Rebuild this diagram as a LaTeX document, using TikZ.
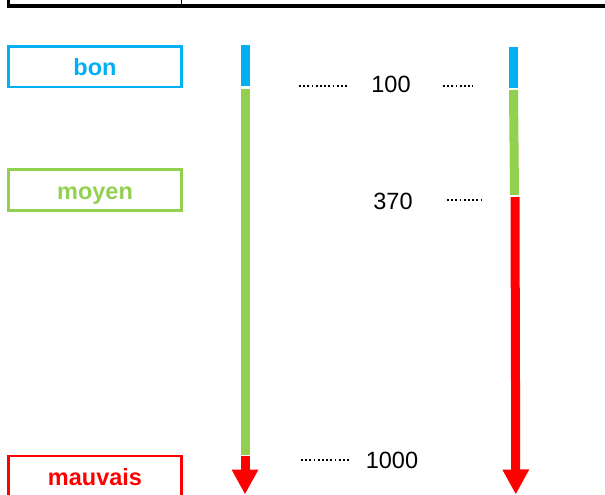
\documentclass[tikz,border=0pt]{standalone}
\usepackage{fontspec}
\setmainfont{Liberation Sans}
\usetikzlibrary{arrows.meta}
\definecolor{bonblue}{HTML}{00B0F0}
\definecolor{moyengreen}{HTML}{92D050}
\definecolor{mauvaisred}{HTML}{FF0000}
\tikzset{
  levelbox/.style={draw, line width=2.5pt, minimum width=173pt, minimum height=40.7pt, inner sep=0pt, text height=18.6pt, text depth=0pt, font=\fontsize{23.5}{28}\selectfont\bfseries},
  value/.style={font=\fontsize{23.5}{28}\selectfont},
  leader/.style={black, line width=1.8pt, dash pattern=on 1.8pt off 2.4pt},
  bar/.style={line width=9pt},
  barhead/.style={bar, -{Triangle[width=25pt,length=25pt]}}
}
\begin{document}
\begin{tikzpicture}[x=1pt,y=-1pt]
\useasboundingbox (0,0) rectangle (605,495);
\draw[line width=2.7pt] (8.3,-3) -- (8.3,8.5);
\draw[line width=4pt] (7,6.5) -- (620,6.5);
\draw[line width=0.8pt] (181.5,-3) -- (181.5,5);

\node[levelbox, bonblue] (bon) at (95,66.7) {bon};
\node[levelbox, moyengreen] (moyen) at (95,190) {moyen};
\node[levelbox, mauvaisred] (mauvais) at (95,476.2) {mauvais};

\draw[bar, bonblue] (245,45) -- (245,86);
\draw[bar, moyengreen] (245,88.7) -- (245,454.5);
\draw[barhead, mauvaisred] (245,456) -- (245,494.5);

\draw[bar, bonblue] (513.5,47) -- (513.5,88);
\draw[bar, moyengreen] (513.5,90) -- (514.5,195);
\draw[barhead, mauvaisred] (515,197) -- (515.8,494.5);

\node[value] (v100) at (391,84) {100};
\node[value] (v370) at (393,201) {370};
\node[value] (v1000) at (392,460) {1000};
\draw[leader] (299,86) -- (348,86);
\draw[leader] (443,86) -- (473,86);
\draw[leader] (447,200) -- (482,200);
\draw[leader] (301,460) -- (349,460);

\end{tikzpicture}
\end{document}
